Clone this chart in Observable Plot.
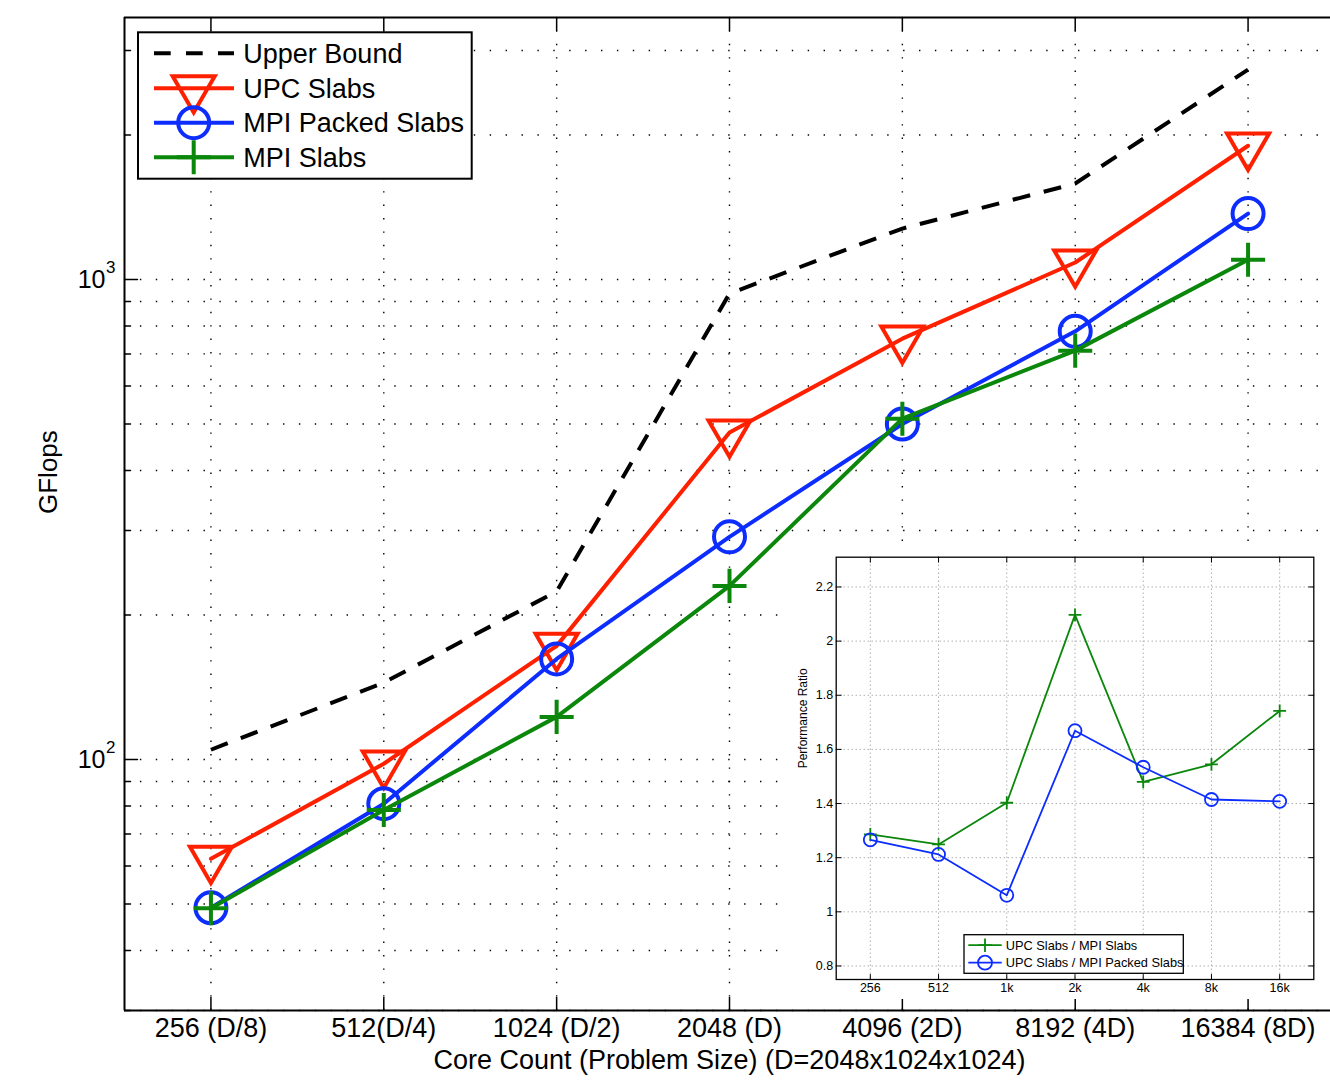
<!DOCTYPE html>
<html><head><meta charset="utf-8">
<script src="https://cdn.jsdelivr.net/npm/d3@7"></script>
<script src="https://cdn.jsdelivr.net/npm/@observablehq/plot@0.6"></script>
<style>
body{margin:0;background:#fff;}
#chart{position:relative;width:1330px;height:1085px;overflow:hidden;background:#fff;}
#inset{position:absolute;left:788px;top:545px;width:530px;height:454px;background:#fff;}
svg{display:block;}
</style></head><body>
<div id="chart"><div id="main"></div><div id="inset"></div></div>
<script>
// ---------- data ----------
const coreLabels = ["256 (D/8)", "512(D/4)", "1024 (D/2)", "2048 (D)", "4096 (2D)", "8192 (4D)", "16384 (8D)"];
const seriesNames = ["Upper Bound", "UPC Slabs", "MPI Packed Slabs", "MPI Slabs"];
const upperBound = [104.8, 144.6, 224, 935, 1277, 1585, 2738];
const upcSlabs = [62.1, 98, 172.5, 480, 753, 1085, 1900];
const mpiPackedSlabs = [49.1, 80.9, 162, 291, 500, 780, 1372];
const mpiSlabs = [49, 78.5, 122.7, 230, 513, 711, 1100];
const yGridTicks = [30, 40, 50, 60, 70, 80, 90, 100, 200, 300, 400, 500, 600, 700, 800, 900, 1000, 2000, 3000];
const yMajorTicks = [100, 1000];
const yMinorTicks = [30, 40, 50, 60, 70, 80, 90, 200, 300, 400, 500, 600, 700, 800, 900, 2000, 3000];

const insetLabels = ["256", "512", "1k", "2k", "4k", "8k", "16k"];
const insetSeriesNames = ["UPC Slabs / MPI Slabs", "UPC Slabs / MPI Packed Slabs"];
const ratioMpiSlabs = [1.286, 1.249, 1.403, 2.097, 1.48, 1.545, 1.742];
const ratioMpiPacked = [1.266, 1.212, 1.061, 1.669, 1.534, 1.415, 1.408];
const insetYTicks = [0.8, 1, 1.2, 1.4, 1.6, 1.8, 2, 2.2];

// ---------- style ----------
const red = "#ff2000", blue = "#0d2dff", green = "#0b870b";
const font = '"Liberation Sans", Arial, Helvetica, sans-serif';
const idx = d3.range(coreLabels.length);
const toRows = vals => vals.map((v, i) => ({i, v}));
const tickShape = {draw(ctx, l) { ctx.moveTo(0, 0); ctx.lineTo(0, -l); }};
const tick = (data, opts) => Plot.vector(data, {anchor: "start", shape: tickShape, stroke: "black", ...opts});

// ---------- main chart ----------
const main = Plot.plot({
  width: 1330, height: 1085,
  marginLeft: 124, marginTop: 17, marginRight: 0, marginBottom: 75,
  x: {type: "linear", domain: [-0.5, 6.5], range: [124, 1334], axis: null},
  y: {type: "log", domain: [30, 3515], range: [1010, 17], axis: null},
  style: {fontFamily: font, fontSize: "26px", color: "black", background: "white"},
  marks: [
    Plot.ruleX(idx, {x: d => d, stroke: "#000", strokeWidth: 1.4, strokeDasharray: "1.4,12"}),
    Plot.ruleY(yGridTicks, {y: d => d, stroke: "#000", strokeWidth: 1.4, strokeDasharray: "1.4,14.5"}),
    tick(idx, {x: d => d, frameAnchor: "bottom", length: 13, rotate: 0, strokeWidth: 1.5}),
    tick(idx, {x: d => d, frameAnchor: "top", length: 13, rotate: 180, strokeWidth: 1.5}),
    tick(yMajorTicks, {y: d => d, frameAnchor: "left", length: 13, rotate: 90, strokeWidth: 1.5}),
    tick(yMinorTicks, {y: d => d, frameAnchor: "left", length: 6, rotate: 90, strokeWidth: 1.5}),
    Plot.ruleX([-0.5], {stroke: "black", strokeWidth: 2}),
    Plot.ruleY([30, 3515], {stroke: "black", strokeWidth: 2}),
    // series
    Plot.line(toRows(upperBound), {x: "i", y: "v", stroke: "black", strokeWidth: 4, strokeDasharray: "18,14", strokeLinecap: "butt"}),
    Plot.line(toRows(upcSlabs), {x: "i", y: "v", stroke: red, strokeWidth: 4}),
    Plot.dot(toRows(upcSlabs), {x: "i", y: "v", symbol: "triangle", rotate: 180, r: 15.6, stroke: red, strokeWidth: 4, fill: "none", strokeLinejoin: "miter"}),
    Plot.line(toRows(mpiPackedSlabs), {x: "i", y: "v", stroke: blue, strokeWidth: 4}),
    Plot.dot(toRows(mpiPackedSlabs), {x: "i", y: "v", symbol: "circle", r: 15.5, stroke: blue, strokeWidth: 4, fill: "none"}),
    Plot.line(toRows(mpiSlabs), {x: "i", y: "v", stroke: green, strokeWidth: 4}),
    Plot.dot(toRows(mpiSlabs), {x: "i", y: "v", symbol: "plus", r: 11, stroke: green, strokeWidth: 4, fill: "none", strokeLinecap: "butt"}),
    // axis labels
    Plot.text(yMajorTicks, {y: d => d, frameAnchor: "left", text: () => "10", textAnchor: "end", dx: -19, fontSize: 25}),
    Plot.text(yMajorTicks, {y: d => d, frameAnchor: "left", text: d => String(Math.round(Math.log10(d))), textAnchor: "start", dx: -18.5, dy: -12, fontSize: 17}),
    Plot.text(idx, {x: d => d, frameAnchor: "bottom", text: d => coreLabels[d], dy: 26, fontSize: 27}),
    Plot.text(["Core Count (Problem Size) (D=2048x1024x1024)"], {x: () => 3, frameAnchor: "bottom", text: d => d, dy: 58, fontSize: 27}),
    Plot.text(["GFlops"], {frameAnchor: "left", text: d => d, rotate: -90, dx: -76, fontSize: 26})
  ]
});
document.getElementById("main").appendChild(main);

// main legend
{
  const svg = d3.select(main);
  const g = svg.append("g").attr("font-family", font).attr("font-size", 27).attr("text-anchor", "start");
  g.append("rect").attr("x", 138).attr("y", 32.3).attr("width", 333.7).attr("height", 146.4)
    .attr("fill", "white").attr("stroke", "black").attr("stroke-width", 2);
  const ys = [53.3, 88.3, 122.7, 157.3];
  const colors = ["black", red, blue, green];
  seriesNames.forEach((name, k) => {
    const y = ys[k];
    const line = g.append("line").attr("x1", 154).attr("x2", 234).attr("y1", y).attr("y2", y)
      .attr("stroke", colors[k]).attr("stroke-width", 4);
    if (k === 0) line.attr("stroke-dasharray", "16.7,15.3");
    let sym = null, size = 0, rot = 0;
    if (k === 1) { sym = d3.symbolTriangle; size = Math.PI * 15.6 * 15.6; rot = 180; }
    if (k === 2) { sym = d3.symbolCircle; size = Math.PI * 15.5 * 15.5; }
    if (k === 3) { sym = d3.symbolPlus; size = Math.PI * 11 * 11; }
    if (sym) g.append("path").attr("d", d3.symbol(sym, size)())
      .attr("transform", `translate(193.7,${y}) rotate(${rot})`)
      .attr("fill", "none").attr("stroke", colors[k]).attr("stroke-width", 4).attr("stroke-linejoin", "miter");
    g.append("text").attr("x", 243.3).attr("y", y).attr("dy", "0.35em").attr("text-anchor", "start").text(name);
  });
}

// ---------- inset chart ----------
const inset = Plot.plot({
  width: 530, height: 454,
  marginLeft: 47.7, marginTop: 11.7, marginRight: 4.7, marginBottom: 20,
  x: {type: "linear", domain: [-0.5, 6.5], axis: null},
  y: {type: "linear", domain: [0.75, 2.31], axis: null},
  style: {fontFamily: font, fontSize: "12.5px", color: "black", background: "white"},
  marks: [
    Plot.ruleX(idx, {x: d => d, stroke: "#8a8a8a", strokeWidth: 1, strokeDasharray: "1,3"}),
    Plot.ruleY(insetYTicks, {y: d => d, stroke: "#8a8a8a", strokeWidth: 1, strokeDasharray: "1,3"}),
    tick(idx, {x: d => d, frameAnchor: "bottom", length: 5, rotate: 0, strokeWidth: 1}),
    tick(idx, {x: d => d, frameAnchor: "top", length: 5, rotate: 180, strokeWidth: 1}),
    tick(insetYTicks, {y: d => d, frameAnchor: "left", length: 5, rotate: 90, strokeWidth: 1}),
    tick(insetYTicks, {y: d => d, frameAnchor: "right", length: 5, rotate: -90, strokeWidth: 1}),
    Plot.frame({stroke: "black", strokeWidth: 1.3}),
    Plot.line(toRows(ratioMpiSlabs), {x: "i", y: "v", stroke: green, strokeWidth: 1.8}),
    Plot.dot(toRows(ratioMpiSlabs), {x: "i", y: "v", symbol: "plus", r: 4.2, stroke: green, strokeWidth: 1.8, strokeLinecap: "butt"}),
    Plot.line(toRows(ratioMpiPacked), {x: "i", y: "v", stroke: blue, strokeWidth: 1.8}),
    Plot.dot(toRows(ratioMpiPacked), {x: "i", y: "v", symbol: "circle", r: 6.5, stroke: blue, strokeWidth: 1.8, fill: "none"}),
    Plot.text(insetYTicks, {y: d => d, frameAnchor: "left", text: d => String(d), textAnchor: "end", dx: -3}),
    Plot.text(idx, {x: d => d, frameAnchor: "bottom", text: d => insetLabels[d], dy: 12}),
    Plot.text(["Performance Ratio"], {frameAnchor: "left", text: d => d, rotate: -90, dx: -33, fontSize: 12})
  ]
});
document.getElementById("inset").appendChild(inset);

// inset legend
{
  const g = d3.select(inset).append("g").attr("font-family", font).attr("font-size", 12.8).attr("text-anchor", "start");
  g.append("rect").attr("x", 176).attr("y", 389.7).attr("width", 219.3).attr("height", 38.6)
    .attr("fill", "white").attr("stroke", "black").attr("stroke-width", 1.3);
  const ys = [400.2, 417.7];
  const colors = [green, blue];
  insetSeriesNames.forEach((name, k) => {
    const y = ys[k];
    g.append("line").attr("x1", 180.3).attr("x2", 213.7).attr("y1", y).attr("y2", y)
      .attr("stroke", colors[k]).attr("stroke-width", 1.8);
    const sym = k === 0 ? d3.symbolPlus : d3.symbolCircle;
    const size = k === 0 ? Math.PI * 4.4 * 4.4 : Math.PI * 7 * 7;
    g.append("path").attr("d", d3.symbol(sym, size)()).attr("transform", `translate(197,${y})`)
      .attr("fill", "none").attr("stroke", colors[k]).attr("stroke-width", 1.8);
    g.append("text").attr("x", 217.7).attr("y", y).attr("dy", "0.35em").attr("text-anchor", "start").text(name);
  });
}
</script>
</body></html>
